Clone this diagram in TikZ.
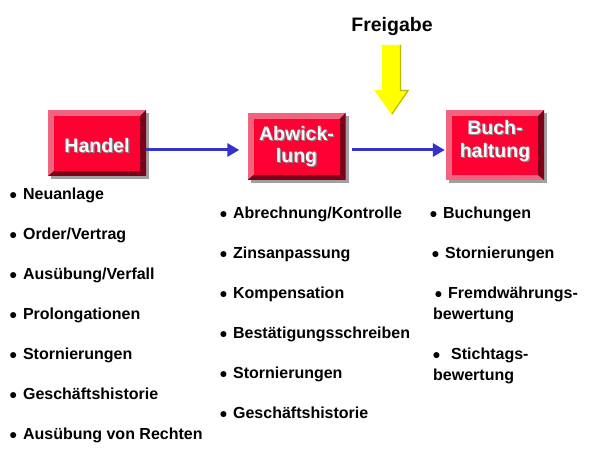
\documentclass[tikz,border=0pt]{standalone}
\usepackage{fontspec}
\setmainfont{Liberation Sans}
\usetikzlibrary{arrows.meta}
\definecolor{boxred}{RGB}{255,0,51}
\definecolor{bevellight}{RGB}{240,100,125}
\definecolor{beveldark}{RGB}{125,0,25}
\definecolor{shadowgray}{RGB}{160,160,160}
\definecolor{textshadow}{RGB}{140,140,140}
\definecolor{flowblue}{RGB}{51,51,204}
\definecolor{freigelb}{RGB}{255,255,0}
\definecolor{gelbdunkel}{RGB}{185,185,0}
\newcommand\bul{{\fontsize{21}{21}\selectfont\raisebox{-3pt}{\textbullet}}}
\newcommand\itm[1]{\bul\hspace{6pt}#1}
\begin{document}
\begin{tikzpicture}[x=1pt,y=-1pt,
    item/.style={anchor=base west,inner sep=0pt,font=\fontsize{16}{19}\selectfont\bfseries},
    boxlabel/.style={align=center,inner sep=0pt,text=white,font=\fontsize{19.5}{22.5}\selectfont\bfseries},
    flow/.style={flowblue,line width=3pt,-{Triangle[length=12pt,width=13pt]}}]
  \useasboundingbox (0,0) rectangle (599,449);
  % Freigabe
  \node[anchor=base,inner sep=0pt,font=\fontsize{19.5}{22.5}\selectfont\bfseries] (freigabe) at (392,32) {Freigabe};
  \fill[freigelb] (382,45) -- (401,45) -- (401,90) -- (409,90) -- (392,115) -- (374,90) -- (382,90) -- cycle;
  \draw[gelbdunkel,line width=1.2pt] (400.4,45) -- (400.4,90.6) -- (408,90.6) -- (392,114);
  % boxes
  \foreach \n/\x/\y/\h/\ty/\bc/\t in {handel/97/143/33/2.5/beveldark/Handel,
      abw/296.5/146.5/33.5/0/beveldark/{Abwick-\\lung},
      buch/495/145/35/-4/bevellight/{Buch-\\haltung}} {
    \fill[shadowgray] (\x-46,\y-\h+3) rectangle (\x+52,\y+\h+3);
    \fill[bevellight] (\x-49,\y-\h) rectangle (\x+49,\y+\h);
    \fill[\bc] (\x-49,\y+\h) -- (\x+49,\y+\h) -- (\x+43,\y+\h-5) -- (\x-43,\y+\h-5) -- cycle;
    \fill[beveldark] (\x+49,\y-\h) -- (\x+49,\y+\h) -- (\x+43,\y+\h-5) -- (\x+43,\y-\h+6) -- cycle;
    \fill[boxred] (\x-43,\y-\h+6) rectangle (\x+43,\y+\h-5);
    \node[inner sep=0pt,minimum width=98pt,minimum height={2*\h*1pt}] (\n) at (\x,\y) {};
    \node[boxlabel,text=textshadow] (\n-shadow) at (\x+1.2,\y+\ty+1.2) {\t};
    \node[boxlabel] (\n-text) at (\x,\y+\ty) {\t};
  }
  % flow
  \coordinate (flowy) at (0,150);
  \draw[flow,shorten >=8pt] (handel.east |- flowy) -- (abw.west |- flowy);
  \draw[flow,shorten <=6pt,shorten >=1pt] (abw.east |- flowy) -- (buch.west |- flowy);
  % lists
  \foreach \t [count=\i from 0] in {Neuanlage,Order/Vertrag,Ausübung/Verfall,Prolongationen,
      Stornierungen,Geschäftshistorie,Ausübung von Rechten}
    \node[item] (handel-\i) at (9.5,199+40*\i) {\itm{\t}};
  \foreach \t [count=\i from 0] in {Abrechnung/Kontrolle,Zinsanpassung,Kompensation,
      Bestätigungsschreiben,Stornierungen,Geschäftshistorie}
    \node[item] (abw-\i) at (219.6,218+40*\i) {\itm{\t}};
  \node[item] (buch-0) at (429.6,218) {\itm{Buchungen}};
  \node[item] (buch-1) at (431.6,258) {\itm{Stornierungen}};
  \node[item] (buch-2) at (434.6,298) {\itm{Fremdwährungs-}};
  \node[item] (buch-2b) at (433,319) {bewertung};
  \node[item] (buch-3) at (432.6,359) {\bul\hspace{11pt}Stichtags-};
  \node[item] (buch-3b) at (433,380) {bewertung};
\end{tikzpicture}
\end{document}
